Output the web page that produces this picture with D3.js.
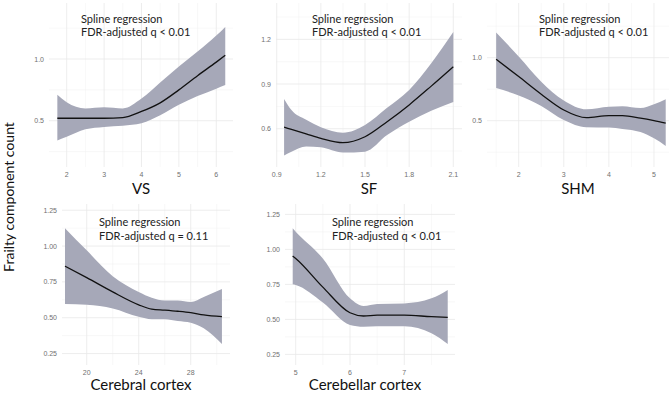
<!DOCTYPE html>
<html>
<head>
  <title>Frailty spline panels</title>
  <script src="https://d3js.org/d3.v7.min.js"></script>
  <style>
    body { margin: 0; background: #fff; }
    .tick-label { font: 7px "Liberation Sans", sans-serif; fill: #707070; }
    .note { font: 11px Lato, sans-serif; fill: #222; }
    .axis-title { font: 15px Lato, sans-serif; fill: #111; }
  </style>
</head>
<body>
  <script>
    var width = 669,
        height = 394;

    // VS
    var vsX     = [1.75, 2, 2.5, 3, 3.5, 4, 4.5, 5, 5.5, 6, 6.24];
    var vsFit   = [0.52, 0.52, 0.52, 0.52, 0.525, 0.575, 0.645, 0.75, 0.865, 0.975, 1.03];
    var vsLow   = [0.34, 0.37, 0.43, 0.45, 0.46, 0.48, 0.545, 0.63, 0.70, 0.76, 0.79];
    var vsHigh  = [0.71, 0.65, 0.60, 0.61, 0.60, 0.68, 0.81, 0.94, 1.06, 1.19, 1.26];

    // SF
    var sfX     = [0.95, 1.0, 1.1, 1.2, 1.35, 1.5, 1.65, 1.8, 1.95, 2.1];
    var sfFit   = [0.61, 0.595, 0.565, 0.535, 0.506, 0.546, 0.647, 0.76, 0.886, 1.016];
    var sfLow   = [0.42, 0.445, 0.48, 0.475, 0.44, 0.446, 0.557, 0.647, 0.72, 0.78];
    var sfHigh  = [0.80, 0.725, 0.66, 0.61, 0.573, 0.625, 0.74, 0.86, 1.04, 1.25];

    // SHM
    var shmX    = [1.5, 2, 2.5, 3, 3.5, 4, 4.3, 4.7, 5, 5.26];
    var shmFit  = [0.987, 0.85, 0.71, 0.585, 0.524, 0.54, 0.54, 0.52, 0.50, 0.48];
    var shmLow  = [0.76, 0.70, 0.617, 0.505, 0.447, 0.445, 0.435, 0.41, 0.36, 0.30];
    var shmHigh = [1.20, 1.01, 0.81, 0.66, 0.59, 0.61, 0.615, 0.60, 0.63, 0.67];

    // Cerebral cortex
    var cerX    = [18.33, 20, 22, 24, 25, 26, 27, 28, 29, 30.4];
    var cerFit  = [0.86, 0.78, 0.68, 0.59, 0.56, 0.553, 0.545, 0.535, 0.52, 0.507];
    var cerLow  = [0.596, 0.59, 0.565, 0.507, 0.49, 0.49, 0.477, 0.465, 0.426, 0.317];
    var cerHigh = [1.125, 0.97, 0.79, 0.68, 0.64, 0.62, 0.62, 0.61, 0.645, 0.70];

    // Cerebellar cortex
    var cblX    = [4.945, 5, 5.5, 6, 6.25, 6.5, 7, 7.5, 7.8];
    var cblFit  = [0.952, 0.935, 0.73, 0.547, 0.524, 0.53, 0.53, 0.519, 0.514];
    var cblLow  = [0.75, 0.745, 0.62, 0.46, 0.447, 0.45, 0.45, 0.40, 0.324];
    var cblHigh = [1.15, 1.126, 0.935, 0.65, 0.595, 0.61, 0.614, 0.65, 0.71];

    var titles = ["VS", "SF", "SHM", "Cerebral cortex", "Cerebellar cortex"];
    var notes = ["FDR-adjusted q < 0.01", "FDR-adjusted q < 0.01", "FDR-adjusted q < 0.01",
                 "FDR-adjusted q = 0.11", "FDR-adjusted q < 0.01"];
    var xTicks = [[2, 3, 4, 5, 6], [0.9, 1.2, 1.5, 1.8, 2.1], [2, 3, 4, 5], [20, 24, 28], [5, 6, 7]];
    var yTicks = [[0.5, 1.0], [0.6, 0.9, 1.2], [0.5, 1.0],
                  [0.25, 0.5, 0.75, 1.0, 1.25], [0.25, 0.5, 0.75, 1.0, 1.25]];
    var yFormat = [".1f", ".1f", ".1f", ".2f", ".2f"];
    var xFormat = ["d", ".1f", "d", "d", "d"];

    var series = [
      {x: vsX, fit: vsFit, lo: vsLow, hi: vsHigh},
      {x: sfX, fit: sfFit, lo: sfLow, hi: sfHigh},
      {x: shmX, fit: shmFit, lo: shmLow, hi: shmHigh},
      {x: cerX, fit: cerFit, lo: cerLow, hi: cerHigh},
      {x: cblX, fit: cblFit, lo: cblLow, hi: cblHigh}
    ];

    // panel boxes and the domains they show
    var panels = [
      {l: 49,  r: 233, t: 3,   b: 167, xd: [1.527, 6.447], yd: [0.125, 1.454], nx: 32},
      {l: 276, r: 462, t: 3,   b: 167, xd: [0.895, 2.159], yd: [0.343, 1.444], nx: 36},
      {l: 487, r: 669, t: 3,   b: 167, xd: [1.297, 5.333], yd: [0.1325, 1.434], nx: 52},
      {l: 62,  r: 230, t: 204, b: 365, xd: [18.1, 31.02],  yd: [0.170, 1.2935], nx: 37},
      {l: 285, r: 455, t: 204, b: 365, xd: [4.803, 7.934], yd: [0.174, 1.324], nx: 47}
    ];

    var svg = d3.select("body").append("svg")
        .attr("width", width)
        .attr("height", height);

    function minors(ticks, dom) {
      var step = ticks[1] - ticks[0], out = [];
      for (var v = ticks[0] - step / 2; v <= dom[1]; v += step) {
        if (v >= dom[0]) out.push(v);
      }
      return out;
    }

    panels.forEach(function(p, i) {
      var s = series[i];
      var x = d3.scaleLinear().domain(p.xd).range([p.l, p.r]);
      var y = d3.scaleLinear().domain(p.yd).range([p.b, p.t]);
      var g = svg.append("g");

      // grid
      g.selectAll(".minor-x").data(minors(xTicks[i], p.xd)).enter().append("line")
          .attr("x1", x).attr("x2", x).attr("y1", p.t).attr("y2", p.b)
          .attr("stroke", "#f1f1f1").attr("stroke-width", 0.5);
      g.selectAll(".minor-y").data(minors(yTicks[i], p.yd)).enter().append("line")
          .attr("y1", y).attr("y2", y).attr("x1", p.l).attr("x2", p.r)
          .attr("stroke", "#f1f1f1").attr("stroke-width", 0.5);
      g.selectAll(".major-x").data(xTicks[i]).enter().append("line")
          .attr("x1", x).attr("x2", x).attr("y1", p.t).attr("y2", p.b)
          .attr("stroke", "#e8e8e8").attr("stroke-width", 0.8);
      g.selectAll(".major-y").data(yTicks[i]).enter().append("line")
          .attr("y1", y).attr("y2", y).attr("x1", p.l).attr("x2", p.r)
          .attr("stroke", "#e8e8e8").attr("stroke-width", 0.8);

      // tick labels
      g.selectAll(".xl").data(xTicks[i]).enter().append("text")
          .attr("class", "tick-label")
          .attr("x", x).attr("y", p.b + 9.5)
          .attr("text-anchor", "middle")
          .text(d3.format(xFormat[i]));
      g.selectAll(".yl").data(yTicks[i]).enter().append("text")
          .attr("class", "tick-label")
          .attr("x", p.l - 5).attr("y", function(d) { return y(d) + 2.5; })
          .attr("text-anchor", "end")
          .text(d3.format(yFormat[i]));

      var rows = s.x.map(function(v, j) { return {x: v, fit: s.fit[j], lo: s.lo[j], hi: s.hi[j]}; });

      g.append("path")
          .datum(rows)
          .attr("fill", "#a6a8b8")
          .attr("d", d3.area()
            .curve(d3.curveMonotoneX)
            .x(function(d) { return x(d.x); })
            .y0(function(d) { return y(d.lo); })
            .y1(function(d) { return y(d.hi); }));

      g.append("path")
          .datum(rows)
          .attr("fill", "none")
          .attr("stroke", "#111")
          .attr("stroke-width", 1.3)
          .attr("d", d3.line()
            .curve(d3.curveMonotoneX)
            .x(function(d) { return x(d.x); })
            .y(function(d) { return y(d.fit); }));

      // annotation
      var ny = i < 3 ? 22.5 : 226;
      g.append("text").attr("class", "note")
          .attr("x", p.l + p.nx).attr("y", ny)
          .text("Spline regression");
      g.append("text").attr("class", "note")
          .attr("x", p.l + p.nx).attr("y", ny + 13.5)
          .text(notes[i]);

      // axis title
      g.append("text").attr("class", "axis-title")
          .attr("x", (p.l + p.r) / 2 - (i >= 3 ? 5 : 0))
          .attr("y", i < 3 ? 194 : 390)
          .attr("text-anchor", "middle")
          .text(titles[i]);
    });

    svg.append("text")
        .attr("class", "axis-title")
        .attr("transform", "translate(14,197) rotate(-90)")
        .attr("text-anchor", "middle")
        .style("font-size", "14px")
        .text("Frailty component count");
  </script>
</body>
</html>
